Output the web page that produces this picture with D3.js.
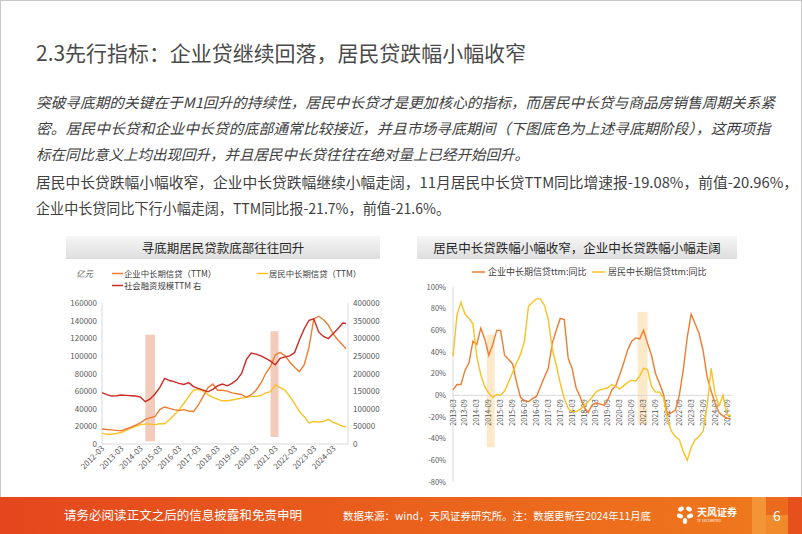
<!DOCTYPE html>
<html><head><meta charset="utf-8">
<script src="https://cdn.jsdelivr.net/npm/d3@7"></script>
<style>
body{margin:0;background:#fff;}
svg{display:block;font-family:"Noto Sans CJK SC","Noto Sans",sans-serif;}
</style></head><body>
<svg id="c" width="802" height="534"></svg>
<script>
// ---------------- DATA ----------------
const ttmDates = ["2012-03","2012-06","2012-09","2012-12","2013-03","2013-06","2013-09","2013-12",
"2014-03","2014-06","2014-09","2014-12","2015-03","2015-06","2015-09","2015-12",
"2016-03","2016-06","2016-09","2016-12","2017-03","2017-06","2017-09","2017-12",
"2018-03","2018-06","2018-09","2018-12","2019-03","2019-06","2019-09","2019-12",
"2020-03","2020-06","2020-09","2020-12","2021-03","2021-06","2021-09","2021-12",
"2022-03","2022-06","2022-09","2022-12","2023-03","2023-06","2023-09","2023-12",
"2024-03","2024-06","2024-09","2024-11"];
const corpTTM = [17000,16500,16000,15500, 15000,17000,19000,21500, 24000,28000,30000,31000,
39000,42000,40500,39000, 38000,39000,37500,37000, 44000,54000,64000,68000,
61000,61000,60000,58000, 57000,56000,53000,56000, 61000,69000,80000,88000,
101000,104000,100000,93000, 87000,82000,90000,110000, 142000,145000,141000,135000,
125000,118000,112000,108000];
const houseTTM = [12400,11000,11000,12000, 13000,15500,18000,20000, 22000,22600,22600,22000,
23000,23000,27500,33000, 39000,46000,54000,61000, 62000,60000,56000,53000,
51000,49000,49000,50000, 51000,52000,53000,54000, 54000,55000,58000,59500,
67000,64000,61000,54000, 46000,37000,31000,24000, 25600,25000,25600,28000,
24500,22600,20000,19600];
const socialTTM = [146000,140000,136000,137000, 139000,138000,137000,136000, 133000,120000,128000,142000,
160000,186000,180000,177000, 172000,169000,174000,163000, 158000,153000,148000,155000,
165000,170000,165000,172000, 182000,200000,240000,258000, 255000,250000,243000,235000,
225000,243000,247000,250000, 259000,295000,327000,351000, 355000,318000,305000,299000,
313000,327000,343000,342000];
const leftTicks = [0,20000,40000,60000,80000,100000,120000,140000,160000];
const rightTicks = [0,50000,100000,150000,200000,250000,300000,350000,400000];
const leftXLabels = ["2012-03","2013-03","2014-03","2015-03","2016-03","2017-03","2018-03",
"2019-03","2020-03","2021-03","2022-03","2023-03","2024-03"];
const leftShade = [{from:"2014-06",to:"2014-12",top:124000,bottom:3000},
                   {from:"2020-12",to:"2021-05",top:128000,bottom:8000}];

const yoyDates = ["2013-03","2013-05","2013-07","2013-09","2013-11",
"2014-01","2014-03","2014-05","2014-07","2014-09","2014-11",
"2015-01","2015-03","2015-05","2015-07","2015-09","2015-11",
"2016-01","2016-03","2016-05","2016-07","2016-09","2016-11",
"2017-01","2017-03","2017-05","2017-07","2017-09","2017-11",
"2018-01","2018-03","2018-05","2018-07","2018-09","2018-11",
"2019-01","2019-03","2019-05","2019-07","2019-09","2019-11",
"2020-01","2020-03","2020-05","2020-07","2020-09","2020-11",
"2021-01","2021-03","2021-05","2021-07","2021-09","2021-11",
"2022-01","2022-03","2022-05","2022-07","2022-09","2022-11",
"2023-01","2023-03","2023-05","2023-07","2023-09","2023-11",
"2024-01","2024-03","2024-05","2024-07","2024-09","2024-11"];
const corpYoY = [5,10,10,23,30, 50,47,62,52,37,47, 60,60,37,33,29,12, -2,-5,-6,-3,-1,8,
17,25,48,60,71,70, 34,25,7,-1,-11,-16, -9,-7,-8,-9,-4,5, 9,19,30,42,50,53,
52,60,48,37,20,11, 1,-18,-16,-14,0,24, 54,75,66,57,41,17, 4,-7,-16,-19,-21,-21.7];
const houseYoY = [36,74,86,75,71, 66,36,19,8,2,-2, 1,0,4,12,21,30, 38,50,82,86,89,89,
83,70,43,28,11,-3, -12,-15,-15,-13,-10,-6, -2,3,5,6,7,10, 8,6,9,12,14,13,
18,25,24,8,3,3, -2,-22,-33,-38,-41,-52, -60,-48,-41,-38,-33,-10, 25,2,-10,0,-18,-19.08];
const yoyTicks = [-0.8,-0.6,-0.4,-0.2,0,0.2,0.4,0.6,0.8,1.0];
const yoyXLabels = ["2013-03","2013-09","2014-03","2014-09","2015-03","2015-09","2016-03","2016-09",
"2017-03","2017-09","2018-03","2018-09","2019-03","2019-09","2020-03","2020-09",
"2021-03","2021-09","2022-03","2022-09","2023-03","2023-09","2024-03","2024-09"];
const yoyShade = [{from:"2014-08",to:"2014-12",top:56,bottom:-48},
                  {from:"2020-12",to:"2021-05",top:77,bottom:-27}];

// ---------------- DRAW ----------------
const svg = d3.select("#c");
const parse = d3.timeParse("%Y-%m");
const defs = svg.append("defs");
const tg = defs.append("linearGradient").attr("id","tbox").attr("x1",0).attr("y1",0).attr("x2",0).attr("y2",1);
tg.append("stop").attr("offset","0%").attr("stop-color","#f6f6f6");
tg.append("stop").attr("offset","100%").attr("stop-color","#dedede");
const fg = defs.append("linearGradient").attr("id","foot").attr("x1",0).attr("y1",0).attr("x2",1).attr("y2",0);
fg.append("stop").attr("offset","0%").attr("stop-color","#e5461d");
fg.append("stop").attr("offset","100%").attr("stop-color","#ef7a1c");

// slide border
svg.append("rect").attr("x",0.5).attr("y",0.5).attr("width",801).attr("height",533)
  .attr("fill","none").attr("stroke","#c8c8c8");

// heading
svg.append("text").attr("x",36).attr("y",61).attr("font-size",21).attr("fill","#4a4a4a")
  .attr("textLength",490).attr("lengthAdjust","spacingAndGlyphs")
  .text("2.3先行指标：企业贷继续回落，居民贷跌幅小幅收窄");

const body = [
 {t:"突破寻底期的关键在于M1回升的持续性，居民中长贷才是更加核心的指标，而居民中长贷与商品房销售周期关系紧", y:107.5, w:739, it:true},
 {t:"密。居民中长贷和企业中长贷的底部通常比较接近，并且市场寻底期间（下图底色为上述寻底期阶段），这两项指", y:133.5, w:734, it:true},
 {t:"标在同比意义上均出现回升，并且居民中长贷往往在绝对量上已经开始回升。", y:159.5, w:493, it:true},
 {t:"居民中长贷跌幅小幅收窄，企业中长贷跌幅继续小幅走阔，11月居民中长贷TTM同比增速报-19.08%，前值-20.96%，", y:187.5, w:762, it:false},
 {t:"企业中长贷同比下行小幅走阔，TTM同比报-21.7%，前值-21.6%。", y:213.5, w:414, it:false}
];
body.forEach(b=>{
  svg.append("text").attr("x",36).attr("y",b.y).attr("font-size",14.5)
    .attr("fill","#404040").attr("font-style",b.it?"italic":"normal")
    .attr("textLength",b.w).attr("lengthAdjust","spacingAndGlyphs").text(b.t);
});

// ---------- LEFT CHART ----------
{
  const g = svg.append("g");
  g.append("rect").attr("x",66).attr("y",236).attr("width",314).attr("height",23).attr("fill","url(#tbox)");
  g.append("text").attr("x",223).attr("y",252.5).attr("text-anchor","middle").attr("font-size",12.5)
    .attr("fill","#262626").text("寻底期居民贷款底部往往回升");

  const x = d3.scaleTime().domain([parse("2012-03"),parse("2024-11")]).range([102,346]);
  const yL = d3.scaleLinear().domain([0,160000]).range([444,303]);
  const yR = d3.scaleLinear().domain([0,400000]).range([444,303]);

  g.selectAll(".sh").data(leftShade).join("rect")
    .attr("x",d=>x(parse(d.from))).attr("width",d=>x(parse(d.to))-x(parse(d.from)))
    .attr("y",d=>yL(d.top)).attr("height",d=>yL(d.bottom)-yL(d.top))
    .attr("fill","#f0c2ae").attr("opacity",0.85);

  g.append("line").attr("x1",102).attr("x2",102).attr("y1",303).attr("y2",444).attr("stroke","#d9d9d9");
  g.append("line").attr("x1",348).attr("x2",348).attr("y1",303).attr("y2",444).attr("stroke","#d9d9d9");
  g.append("line").attr("x1",102).attr("x2",348).attr("y1",444).attr("y2",444).attr("stroke","#d9d9d9");

  g.selectAll(".yl").data(leftTicks).join("text").attr("x",97).attr("y",d=>yL(d)+3)
    .attr("text-anchor","end").attr("font-size",8).attr("fill","#595959").text(d=>d);
  g.selectAll(".yr").data(rightTicks).join("text").attr("x",353).attr("y",d=>yR(d)+3)
    .attr("text-anchor","start").attr("font-size",8).attr("fill","#595959").text(d=>d);
  g.selectAll(".xl").data(leftXLabels).join("text")
    .attr("transform",d=>`translate(${x(parse(d))+3},${449}) rotate(-45)`)
    .attr("text-anchor","end").attr("font-size",8).attr("fill","#595959").text(d=>d);

  const mk = (vals, ys) => d3.line().x((d,i)=>x(parse(ttmDates[i]))).y(d=>ys(d))(vals);
  g.append("path").attr("d",mk(houseTTM,yL)).attr("fill","none").attr("stroke","#f8c224").attr("stroke-width",1.4);
  g.append("path").attr("d",mk(corpTTM,yL)).attr("fill","none").attr("stroke","#ed7d31").attr("stroke-width",1.4);
  g.append("path").attr("d",mk(socialTTM,yR)).attr("fill","none").attr("stroke","#cc2a24").attr("stroke-width",1.4);

  g.append("text").attr("x",76).attr("y",277).attr("font-size",8.5).attr("fill","#595959").attr("font-style","italic").text("亿元");
  const leg = [{c:"#ed7d31",t:"企业中长期信贷（TTM）",x:112,y:273.5},
               {c:"#f8c224",t:"居民中长期信贷（TTM）",x:257,y:273.5},
               {c:"#cc2a24",t:"社会融资规模TTM 右",x:112,y:285.5}];
  leg.forEach(l=>{
    g.append("line").attr("x1",l.x).attr("x2",l.x+11).attr("y1",l.y).attr("y2",l.y).attr("stroke",l.c).attr("stroke-width",1.5);
    g.append("text").attr("x",l.x+12).attr("y",l.y+3).attr("font-size",8.4).attr("fill","#404040").text(l.t);
  });
}

// ---------- RIGHT CHART ----------
{
  const g = svg.append("g");
  g.append("rect").attr("x",417).attr("y",236).attr("width",320).attr("height",23).attr("fill","url(#tbox)");
  g.append("text").attr("x",577).attr("y",252.5).attr("text-anchor","middle").attr("font-size",12.5)
    .attr("fill","#262626").text("居民中长贷跌幅小幅收窄，企业中长贷跌幅小幅走阔");

  const x = d3.scaleTime().domain([parse("2013-03"),parse("2024-11")]).range([453,731]);
  const y = d3.scaleLinear().domain([-0.8,1.0]).range([482,287]);

  g.selectAll(".sh").data(yoyShade).join("rect")
    .attr("x",d=>x(parse(d.from))).attr("width",d=>x(parse(d.to))-x(parse(d.from)))
    .attr("y",d=>y(d.top/100)).attr("height",d=>y(d.bottom/100)-y(d.top/100))
    .attr("fill","#fbe3bd").attr("opacity",0.8);

  g.append("line").attr("x1",453).attr("x2",453).attr("y1",287).attr("y2",482).attr("stroke","#d9d9d9");
  g.append("line").attr("x1",453).attr("x2",732).attr("y1",y(0)).attr("y2",y(0)).attr("stroke","#d9d9d9");

  g.selectAll(".yl").data(yoyTicks).join("text").attr("x",446).attr("y",d=>y(d)+2.8)
    .attr("text-anchor","end").attr("font-size",7.5).attr("fill","#595959").text(d=>Math.round(d*100)+"%");
  g.selectAll(".xl").data(yoyXLabels).join("text")
    .attr("transform",d=>`translate(${x(parse(d))+2.5},${y(0)+4}) rotate(-90)`)
    .attr("text-anchor","end").attr("font-size",7.2).attr("fill","#4d4d4d").text(d=>d);

  const mk = vals => d3.line().x((d,i)=>x(parse(yoyDates[i]))).y(d=>y(d/100))(vals);
  g.append("path").attr("d",mk(corpYoY)).attr("fill","none").attr("stroke","#ed7d31").attr("stroke-width",1.4);
  g.append("path").attr("d",mk(houseYoY)).attr("fill","none").attr("stroke","#f8c224").attr("stroke-width",1.4);

  const leg = [{c:"#ed7d31",t:"企业中长期信贷ttm:同比",x:472},
               {c:"#f8c224",t:"居民中长期信贷ttm:同比",x:592}];
  leg.forEach(l=>{
    g.append("line").attr("x1",l.x).attr("x2",l.x+13).attr("y1",272).attr("y2",272).attr("stroke",l.c).attr("stroke-width",1.5);
    g.append("text").attr("x",l.x+16).attr("y",275.2).attr("font-size",9).attr("fill","#404040").text(l.t);
  });
}

// ---------- FOOTER ----------
{
  const g = svg.append("g");
  g.append("rect").attr("x",0).attr("y",497).attr("width",802).attr("height",37).attr("fill","url(#foot)");
  g.append("text").attr("x",64).attr("y",520).attr("font-size",12.5).attr("fill","#fff")
    .attr("textLength",238).attr("lengthAdjust","spacingAndGlyphs").text("请务必阅读正文之后的信息披露和免责申明");
  g.append("text").attr("x",343).attr("y",519.5).attr("font-size",10.5).attr("fill","#fff")
    .attr("textLength",308).attr("lengthAdjust","spacingAndGlyphs").text("数据来源：wind，天风证券研究所。注：数据更新至2024年11月底");
  const lg = g.append("g").attr("transform","translate(685,515)").attr("fill","#fff");
  [[-4,-6,3,2.2,-30],[4,-6,3,2.2,30],[-5,1,3.2,2.2,20],[5,1,3.2,2.2,-20],[0,6,2.2,3,0]].forEach(p=>{
    lg.append("ellipse").attr("cx",p[0]).attr("cy",p[1]).attr("rx",p[2]).attr("ry",p[3])
      .attr("transform",`rotate(${p[4]},${p[0]},${p[1]})`);
  });
  g.append("text").attr("x",697).attr("y",516).attr("font-size",10).attr("font-weight","bold").attr("fill","#fff").text("天风证券");
  g.append("text").attr("x",697).attr("y",522).attr("font-size",3.5).attr("fill","#fff").text("TF SECURITIES");
  g.append("rect").attr("x",752).attr("y",497).attr("width",14).attr("height",37).attr("fill","#f39a3c").attr("opacity",0.85);
  g.append("rect").attr("x",766).attr("y",497).attr("width",22).attr("height",18).attr("fill","#ec6a1e");
  g.append("rect").attr("x",766).attr("y",515).attr("width",22).attr("height",19).attr("fill","#f08a2a");
  g.append("rect").attr("x",788).attr("y",497).attr("width",14).attr("height",37).attr("fill","#e5501c");
  g.append("text").attr("x",777).attr("y",521).attr("text-anchor","middle").attr("font-size",14).attr("fill","#fff").text("6");
}
</script></body></html>
